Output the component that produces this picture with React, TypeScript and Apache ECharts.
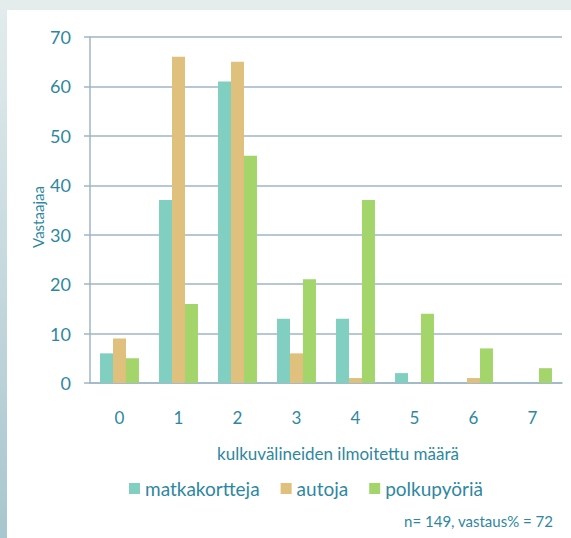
import React, { useEffect, useRef } from "react";
import * as echarts from "echarts";

const categories = ["0", "1", "2", "3", "4", "5", "6", "7"];
const matkakortteja = [6, 37, 61, 13, 13, 2, 0, 0];
const autoja = [9, 66, 65, 6, 1, 0, 1, 0];
const polkupyoria = [5, 16, 46, 21, 37, 14, 7, 3];
const seriesNames = ["matkakortteja", "autoja", "polkupyöriä"];
const yTitle = "Vastaajaa";
const xTitle = "kulkuvälineiden ilmoitettu määrä";
const note = "n= 149, vastaus% = 72";

const textColor = "#2e87a1";
const lineColor = "#9fb6c6";
const font = "Lato, 'Open Sans', sans-serif";

export default function App() {
  const ref = useRef<HTMLDivElement>(null);
  useEffect(() => {
    const chart = echarts.init(ref.current!, null, { renderer: "svg" });
    chart.setOption({
      animation: false,
      backgroundColor: "#ffffff",
      textStyle: { fontFamily: font },
      graphic: [
        {
          type: "rect",
          z: -10,
          silent: true,
          shape: { x: 0, y: 0, width: 571, height: 538 },
          style: {
            fill: new echarts.graphic.LinearGradient(0, 0, 0, 1, [
              { offset: 0, color: "#e4ecec" },
              { offset: 1, color: "#a8c6cf" },
            ]),
          },
        },
        {
          type: "rect",
          z: -10,
          silent: true,
          shape: { x: 0, y: 0, width: 571, height: 10 },
          style: { fill: "#e4ecec" },
        },
        {
          type: "rect",
          z: -9,
          silent: true,
          shape: { x: 7, y: 10, width: 564, height: 528 },
          style: { fill: "#ffffff" },
        },
        {
          type: "text",
          x: 38,
          y: 217,
          rotation: Math.PI / 2,
          style: {
            text: yTitle,
            fill: textColor,
            font: `15px ${font}`,
            align: "center",
            verticalAlign: "middle",
          },
        },
        {
          type: "text",
          x: 338,
          y: 453,
          style: {
            text: xTitle,
            fill: textColor,
            font: `17px ${font}`,
            align: "center",
            verticalAlign: "middle",
          },
        },
        {
          type: "text",
          x: 553,
          y: 521,
          style: {
            text: note,
            fill: textColor,
            font: `15px ${font}`,
            align: "right",
            verticalAlign: "middle",
          },
        },
      ],
      legend: {
        data: seriesNames,
        left: 124,
        top: 474,
        itemWidth: 11,
        itemHeight: 11,
        itemGap: 21,
        icon: "rect",
        textStyle: { color: textColor, fontSize: 19, fontFamily: font },
      },
      grid: { left: 90, right: 9, top: 37, bottom: 155 },
      xAxis: {
        type: "category",
        data: categories,
        axisLine: { show: true, lineStyle: { color: lineColor, width: 1.5 } },
        axisTick: { show: false },
        axisLabel: { color: textColor, fontSize: 17, margin: 26, fontFamily: font },
      },
      yAxis: {
        type: "value",
        min: 0,
        max: 70,
        interval: 10,
        axisLine: { show: true, lineStyle: { color: lineColor, width: 1.5 } },
        axisTick: { show: true, length: 6, lineStyle: { color: lineColor, width: 1.5 } },
        splitLine: { lineStyle: { color: lineColor, width: 1.5 } },
        axisLabel: { color: textColor, fontSize: 18, margin: 19, fontFamily: font },
      },
      series: [
        {
          name: seriesNames[0],
          type: "bar",
          data: matkakortteja,
          barGap: "0%",
          barCategoryGap: "34%",
          itemStyle: { color: "#80cfc1" },
        },
        {
          name: seriesNames[1],
          type: "bar",
          data: autoja,
          itemStyle: { color: "#dfc07c" },
        },
        {
          name: seriesNames[2],
          type: "bar",
          data: polkupyoria,
          itemStyle: { color: "#a4d56b" },
        },
      ],
    });
    return () => chart.dispose();
  }, []);
  return (
    <div
      ref={ref}
      style={{ position: "fixed", left: 0, top: 0, width: 571, height: 538 }}
    />
  );
}
